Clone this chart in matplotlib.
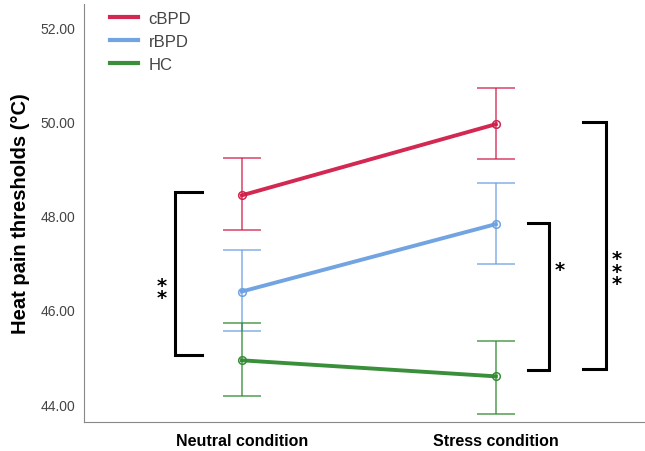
import matplotlib.pyplot as plt
import numpy as np

plt.rcParams['font.family'] = ['Liberation Sans', 'DejaVu Sans']

conditions = ['Neutral condition', 'Stress condition']
groups = ['cBPD', 'rBPD', 'HC']
colors = ['#d01c48', '#6a9fe0', '#2f8a2f']

means = {'cBPD': [48.43, 49.94], 'rBPD': [46.39, 47.82], 'HC': [44.93, 44.59]}
upper = {'cBPD': [49.22, 50.70], 'rBPD': [47.27, 48.69], 'HC': [45.72, 45.35]}
lower = {'cBPD': [47.69, 49.20], 'rBPD': [45.55, 46.97], 'HC': [44.17, 43.80]}

# significance brackets: (x of vertical, x of ends, y top, y bottom, label x, label y, stars)
brackets = [(-0.264, -0.157, 48.50, 45.04, -0.315, 46.39, '**'),
            (1.209, 1.126, 47.84, 44.72, 1.252, 46.86, '*'),
            (1.433, 1.343, 49.98, 44.74, 1.476, 46.82, '***')]

fig = plt.figure(figsize=(6.45, 4.52), dpi=100)
ax = fig.add_axes([0.130, 0.064, 0.87, 0.925])

x = np.arange(len(conditions))
for g, c in zip(groups, colors):
	m = np.array(means[g])
	up = np.array(upper[g]) - m
	lo = m - np.array(lower[g])
	ax.errorbar(x, m, yerr=[lo, up], fmt='none', ecolor=c, alpha=0.7,
				elinewidth=1.3, capsize=14, capthick=1.3)
	ax.plot(x, m, color=c, lw=2.8, label=g, marker='o', ms=5.5,
			mfc='none', mec=c, mew=1.1, alpha=0.95)

for xv, xe, yt, yb, xt, yl, s in brackets:
	ax.plot([xe, xv, xv, xe], [yt, yt, yb, yb], color='black', lw=2.2,
			clip_on=False, solid_joinstyle='miter')
	ax.text(xt, yl, '\n'.join(s), ha='center', va='center', fontweight='bold',
			fontsize=14, linespacing=0.55, clip_on=False, family='DejaVu Sans')

ax.set_xlim(-0.622, 1.587)
ax.set_ylim(43.62, 52.49)
ax.set_yticks([44, 46, 48, 50, 52])
ax.set_yticklabels(['%.2f' % v for v in [44, 46, 48, 50, 52]], color='#444444', fontsize=10)
ax.set_xticks(x)
ax.set_xticklabels(conditions, fontweight='bold', fontsize=11.5)
ax.tick_params(axis='both', length=0)
ax.tick_params(axis='y', pad=6)
ax.tick_params(axis='x', pad=8)
for side in ['top', 'right']:
	ax.spines[side].set_visible(False)
for side in ['left', 'bottom']:
	ax.spines[side].set_color('#888888')
ax.set_ylabel('Heat pain thresholds (°C)', fontweight='bold', fontsize=14.5, labelpad=8)

leg = ax.legend(loc='upper left', bbox_to_anchor=(0.02, 1.02), frameon=False,
				fontsize=12, handlelength=1.7, labelspacing=0.5, handletextpad=0.6)
for h in leg.get_lines():
	h.set_marker('')
	h.set_linewidth(3)
for t in leg.get_texts():
	t.set_color('#444444')

fig.savefig('out.png', dpi=100)
